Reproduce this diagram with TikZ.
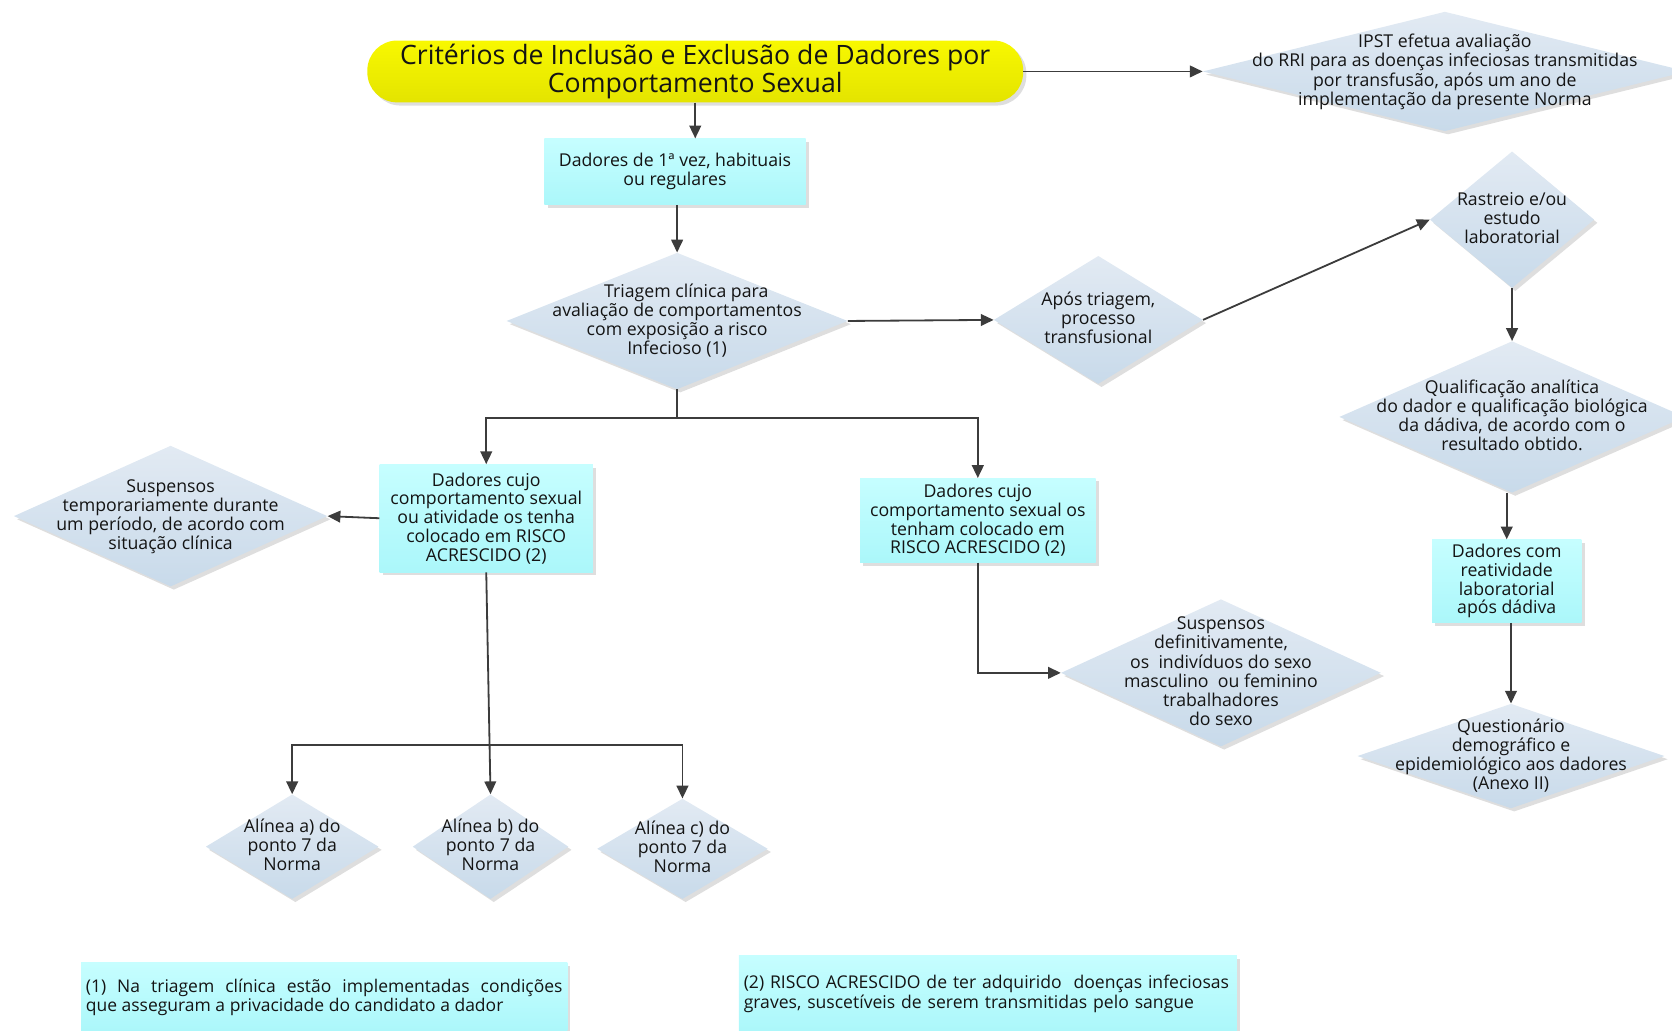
\documentclass[tikz,border=0pt]{standalone}
\usepackage{fontspec}
\setmainfont{Open Sans}
\usetikzlibrary{shapes.geometric,shadows,arrows.meta}
\definecolor{arrc}{HTML}{3C3C3C}
\definecolor{txt}{HTML}{141414}
\definecolor{diatop}{HTML}{E2EAF3}
\definecolor{diabot}{HTML}{C8DAEA}
\definecolor{boxtop}{HTML}{C6FEFF}
\definecolor{boxbot}{HTML}{ABF7FA}
\definecolor{yeltop}{HTML}{F8F800}
\definecolor{yelbot}{HTML}{E4E400}
\newcommand\dtext[1]{\makebox[0pt]{\raisebox{-0.32em}[0pt][0pt]{\begin{tabular}{@{}c@{}}#1\end{tabular}}}}
\begin{document}
\begin{tikzpicture}[x=1pt,y=-1pt,
  every node/.style={font=\fontsize{16.6}{17.6}\selectfont, text=txt},
  shad/.style={drop shadow={shadow xshift=3pt,shadow yshift=-3pt,fill=black!13,opacity=1}},
  dia/.style={diamond, inner sep=0pt, top color=diatop, bottom color=diabot, draw=none, shad},
  bx/.style={rectangle, inner sep=0pt, top color=boxtop, bottom color=boxbot, draw=none, shad, align=center},
  arr/.style={draw=arrc, line width=1.7pt, -{Triangle[length=12pt,width=11pt]}},
  ln/.style={draw=arrc, line width=1.7pt}]
\useasboundingbox (0,0) rectangle (1568,966);

% title
\node[rectangle, rounded corners=28pt, minimum width=615pt, minimum height=58pt, inner sep=0pt,
  top color=yeltop, bottom color=yelbot, shad, align=center,
  font=\fontsize{25}{26}\selectfont] (title) at (652,67)
  {Critérios de Inclusão e Exclusão de Dadores por\\Comportamento Sexual};

\node[dia, minimum width=454pt, minimum height=112pt] (ipst) at (1355,67)
  {\dtext{IPST efetua avaliação\\do RRI para as doenças infeciosas transmitidas\\por transfusão, após um ano de\\implementação da presente Norma}};

\node[bx, minimum width=245pt, minimum height=62pt] (d1) at (633,161)
  {Dadores de 1ª vez, habituais\\ou regulares};

\node[dia, minimum width=320pt, minimum height=128pt] (tri) at (635,301)
  {\dtext{\ \ \ \ Triagem clínica para\\avaliação de comportamentos\\com exposição a risco\\Infecioso (1)}};

\node[dia, minimum width=196pt, minimum height=120pt] (apos) at (1030,300)
  {\dtext{Após triagem,\\processo\\transfusional}};

\node[dia, minimum width=154pt, minimum height=128pt] (rast) at (1418,206)
  {\dtext{Rastreio e/ou\\estudo\\laboratorial}};

\node[dia, minimum width=324pt, minimum height=142pt] (qual) at (1418,391)
  {\dtext{Qualificação analítica\\do dador e qualificação biológica\\da dádiva, de acordo com o\\resultado obtido.}};

\node[bx, minimum width=140pt, minimum height=78pt] (dcom) at (1413,545)
  {Dadores com\\reatividade\\laboratorial\\após dádiva};

\node[dia, minimum width=288pt, minimum height=98pt] (quest) at (1417,709)
  {\dtext{Questionário\\demográfico e\\epidemiológico aos dadores\\(Anexo II)}};

\node[bx, minimum width=200pt, minimum height=101pt] (boxA) at (456,486)
  {Dadores cujo\\comportamento sexual\\ou atividade os tenha\\colocado em RISCO\\ACRESCIDO (2)};

\node[bx, minimum width=221pt, minimum height=79pt] (boxB) at (917,488)
  {Dadores cujo\\comportamento sexual os\\tenham colocado em\\RISCO ACRESCIDO (2)};

\node[dia, minimum width=294pt, minimum height=132pt] (susT) at (160,484)
  {\dtext{Suspensos\\temporariamente durante\\um período, de acordo com\\situação clínica}};

\node[dia, minimum width=300pt, minimum height=138pt] (susD) at (1145,631)
  {\dtext{Suspensos\\definitivamente,\\os\ \ indivíduos do sexo\\masculino\ \ ou feminino\\trabalhadores\\do sexo}};

\node[dia, minimum width=162pt, minimum height=98pt] (ala) at (274,794)
  {\dtext{Alínea a) do\\ponto 7 da\\Norma}};
\node[dia, minimum width=146pt, minimum height=98pt] (alb) at (460,794)
  {\dtext{Alínea b) do\\ponto 7 da\\Norma}};
\node[dia, minimum width=160pt, minimum height=94pt] (alc) at (640,796)
  {\dtext{Alínea c) do\\ponto 7 da\\Norma}};

\node[bx, minimum width=456pt, minimum height=65pt, text width=447pt, align=justify,
  font=\fontsize{16.4}{18}\selectfont] (fn1) at (304,935.5)
  {(1) Na triagem clínica estão implementadas condições\linebreak que asseguram a privacidade do candidato a dador};
\node[bx, minimum width=467pt, minimum height=72pt, text width=458pt, align=left,
  font=\fontsize{16.5}{18}\selectfont] (fn2) at (926.5,932)
  {(2) RISCO ACRESCIDO de ter adquirido\ \ doenças infeciosas\\graves, suscetíveis de serem transmitidas pelo sangue};

% connectors
\draw[arr] (title.south) -- (title.south |- d1.north);
\draw[arr] (title.east) -- (ipst.west);
\draw[arr] (d1.south -| tri.north) -- (tri.north);
\draw[arr] (tri.east) -- (apos.west);
\draw[arr] (apos.east) -- (rast.west);
\draw[arr] (rast.south) -- (qual.north);
\draw[arr] (dcom.north |- qual.south) -- (dcom.north);
\draw[arr] (dcom.south -| quest.north) -- (quest.north);
\coordinate (split) at (635,392);
\draw[ln] (tri.south) -- (split);
\draw[arr] (split) -| (boxA.north);
\draw[arr] (split) -| (boxB.north);
\draw[arr] (boxA.west) -- (susT.east);
\draw[arr] (boxB.south) |- (susD.west);
\coordinate (j) at (459,699);
\draw[arr] (boxA.south) -- (alb.north);
\draw[arr] (j) -| (ala.north);
\draw[arr] (j) -| (alc.north);
\end{tikzpicture}
\end{document}
